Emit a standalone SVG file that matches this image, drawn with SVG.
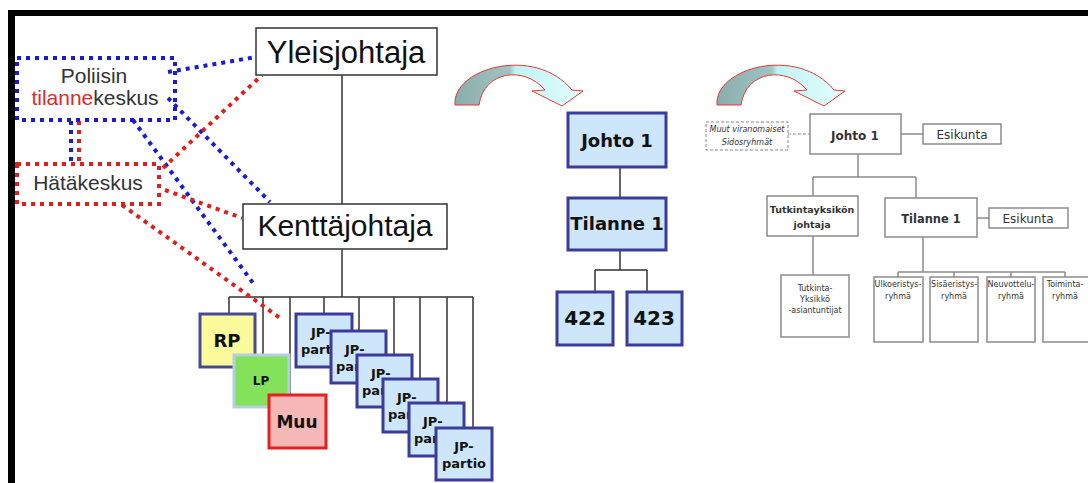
<svg xmlns="http://www.w3.org/2000/svg" width="1088" height="483" viewBox="0 0 1088 483">
<style>
.bl{fill:none;stroke:#1b1bd2;stroke-width:4;stroke-dasharray:4 5}
.rd{fill:none;stroke:#e01e1e;stroke-width:4;stroke-dasharray:4 5}
.tr{fill:none;stroke:#333;stroke-width:1.5}
.gl{fill:none;stroke:#8c8c8c;stroke-width:1.5}
.wb{fill:#fff;stroke:#333;stroke-width:1.5}
.big{font-family:"Liberation Sans",Arial,sans-serif;font-size:30px;fill:#111;text-anchor:middle}
.mid{font-family:"Liberation Sans",Arial,sans-serif;font-size:21px;fill:#333;text-anchor:middle}
.jp{fill:#cde6fa;stroke:#3b3b9c;stroke-width:3}
.cm{font-family:"DejaVu Sans",Verdana,sans-serif;font-weight:bold;fill:#111;text-anchor:middle}
.cs{font-family:"DejaVu Sans",Verdana,sans-serif;font-weight:bold;fill:#111;font-size:13px}
.gb{fill:#fff;stroke:#8c8c8c;stroke-width:1.5}
.gt{font-family:"DejaVu Sans",Verdana,sans-serif;fill:#333;text-anchor:middle}
</style>
<defs>
<linearGradient id="ag" x1="0" y1="0" x2="1" y2="0">
<stop offset="0" stop-color="#88aeac"/>
<stop offset="0.43" stop-color="#a2c4c3"/>
<stop offset="0.47" stop-color="#c2f2f2"/>
<stop offset="1" stop-color="#e2ffff"/>
</linearGradient>
<path id="uarrow" d="M455,105 C452,68 535,45 572,90 L583,91 L562,106 L532,91 L545,90 C525,66 484,70 479,105 Z" fill="url(#ag)" stroke="#e03a3a" stroke-width="1"/>
</defs>
<rect width="1088" height="483" fill="#fff"/>
<rect x="8" y="10" width="1080" height="6" fill="#000"/>
<rect x="8" y="10" width="7" height="473" fill="#000"/>

<g id="connectors">
<path class="tr" d="M342,75 V204 M342,249 V297 M229,297 H473 M229,297 V314 M263,297 V355 M290,297 V395 M324,297 V314 M359,297 V331 M394,297 V355 M420,297 V379 M447,297 V403 M473,297 V428"/>
<path class="bl" d="M71,121 V163"/>
<path class="rd" d="M79,121 V163"/>
<path class="bl" d="M168,72 L256,57"/>
<path class="bl" d="M168,98 L270,202"/>
<path class="bl" d="M133,120 L253,283"/>
<path class="rd" d="M163,168 L262,75"/>
<path class="rd" d="M165,190 L242,218"/>
<path class="rd" d="M122,205 L280,318"/>
<path class="tr" d="M620,167 V198 M620,250 V270 M595,270 H647 M595,270 V292 M647,270 V292"/>
<path class="gl" d="M858,154 V177 M813,177 H916 M813,177 V196 M916,177 V198 M901,134 H923 M977,218 H989 M813,236 V275 M923,237 V272 M898,272 H1065 M898,272 V277 M954,272 V277 M1011,272 V277 M1065,272 V277"/>
<path d="M788,134 H810" fill="none" stroke="#888" stroke-width="1" stroke-dasharray="3 2"/>
</g>

<g id="poliisin">
<rect class="bl" x="17" y="58" width="158" height="62"/>
<text class="mid" x="94" y="83">Poliisin</text>
<text class="mid" x="95" y="105"><tspan fill="#e02a2a">tilanne</tspan>keskus</text>
</g>
<g id="hatakeskus">
<rect class="rd" x="17" y="164" width="142" height="40"/>
<text class="mid" x="88" y="190">Hätäkeskus</text>
</g>

<g id="yleisjohtaja">
<rect class="wb" x="256" y="28" width="181" height="47"/>
<text class="big" x="346" y="63" style="font-size:31px">Yleisjohtaja</text>
</g>
<g id="kenttajohtaja">
<rect class="wb" x="243" y="204" width="204" height="45"/>
<text class="big" x="345" y="236">Kenttäjohtaja</text>
</g>

<g id="rp">
<rect x="200" y="314" width="55" height="53" fill="#fbfb9c" stroke="#4a4a94" stroke-width="3"/>
<text class="cm" x="227" y="347" font-size="18">RP</text>
</g>
<g id="lp">
<rect x="234" y="355" width="55" height="52" fill="#84e25a" stroke="#b4d0de" stroke-width="3"/>
<text class="cm" x="261" y="385" font-size="12">LP</text>
</g>
<g id="muu">
<rect x="269" y="395" width="57" height="53" fill="#f5b8b6" stroke="#e52020" stroke-width="3"/>
<text class="cm" x="297" y="428" font-size="17">Muu</text>
</g>

<g id="jp1"><rect class="jp" x="296" y="314" width="56" height="53"/><text class="cs" x="311" y="337">JP-</text><text class="cs" x="301" y="354">part</text></g>
<g id="jp2"><rect class="jp" x="331" y="331" width="55" height="52"/><text class="cs" x="345" y="354">JP-</text><text class="cs" x="336" y="371">par</text></g>
<g id="jp3"><rect class="jp" x="357" y="355" width="55" height="52"/><text class="cs" x="371" y="378">JP-</text><text class="cs" x="362" y="395">par</text></g>
<g id="jp4"><rect class="jp" x="383" y="379" width="55" height="53"/><text class="cs" x="397" y="402">JP-</text><text class="cs" x="388" y="419">par</text></g>
<g id="jp5"><rect class="jp" x="409" y="403" width="55" height="53"/><text class="cs" x="423" y="426">JP-</text><text class="cs" x="414" y="443">par</text></g>
<g id="jp6"><rect class="jp" x="436" y="428" width="56" height="52"/><text class="cm" font-size="13"><tspan x="464" y="451">JP-</tspan><tspan x="464" y="468">partio</tspan></text></g>

<g id="arrow1"><use href="#uarrow"/></g>
<g id="arrow2"><use href="#uarrow" transform="translate(262,0)"/></g>

<g id="m-johto1">
<rect class="jp" x="568" y="113" width="98" height="54"/>
<text class="cm" x="617" y="147" font-size="18">Johto 1</text>
</g>
<g id="m-tilanne1">
<rect class="jp" x="568" y="198" width="98" height="52"/>
<text class="cm" x="617" y="230" font-size="18">Tilanne 1</text>
</g>
<g id="m-422">
<rect class="jp" x="557" y="292" width="56" height="53"/>
<text class="cm" x="585" y="325" font-size="20">422</text>
</g>
<g id="m-423">
<rect class="jp" x="627" y="292" width="55" height="53"/>
<text class="cm" x="654" y="325" font-size="20">423</text>
</g>

<g id="r-muut">
<rect x="706" y="122" width="82" height="28" fill="#fff" stroke="#888" stroke-width="1" stroke-dasharray="3 2"/>
<text class="gt" font-size="8" font-style="italic"><tspan x="747" y="132">Muut viranomaiset</tspan><tspan x="747" y="145">Sidosryhmät</tspan></text>
</g>
<g id="r-johto1">
<rect class="gb" x="810" y="114" width="91" height="40"/>
<text class="gt" x="855" y="140" font-size="12" font-weight="bold">Johto 1</text>
</g>
<g id="r-esikunta1">
<rect class="gb" x="923" y="124" width="78" height="20"/>
<text class="gt" x="962" y="139" font-size="12">Esikunta</text>
</g>
<g id="r-tutkinta">
<rect class="gb" x="767" y="196" width="91" height="40"/>
<text class="gt" font-size="9.5" font-weight="bold"><tspan x="812" y="213">Tutkintayksikön</tspan><tspan x="812" y="228">johtaja</tspan></text>
</g>
<g id="r-tilanne1">
<rect class="gb" x="885" y="198" width="92" height="39"/>
<text class="gt" x="931" y="223" font-size="11.5" font-weight="bold">Tilanne 1</text>
</g>
<g id="r-esikunta2">
<rect class="gb" x="989" y="208" width="79" height="20"/>
<text class="gt" x="1028" y="223" font-size="12">Esikunta</text>
</g>
<g id="r-asiantuntijat">
<rect class="gb" x="781" y="275" width="68" height="62"/>
<text class="gt" font-size="8"><tspan x="815" y="291">Tutkinta-</tspan><tspan x="815" y="302">Yksikkö</tspan><tspan x="815" y="313">-asiantuntijat</tspan></text>
</g>
<g id="r-ulko">
<rect class="gb" x="874" y="277" width="49" height="65"/>
<text class="gt" font-size="8"><tspan x="898" y="287">Ulkoeristys-</tspan><tspan x="898" y="299">ryhmä</tspan></text>
</g>
<g id="r-sisa">
<rect class="gb" x="930" y="277" width="48" height="65"/>
<text class="gt" font-size="8"><tspan x="954" y="287">Sisäeristys-</tspan><tspan x="954" y="299">ryhmä</tspan></text>
</g>
<g id="r-neuvottelu">
<rect class="gb" x="987" y="277" width="48" height="65"/>
<text class="gt" font-size="8"><tspan x="1011" y="287">Neuvottelu-</tspan><tspan x="1011" y="299">ryhmä</tspan></text>
</g>
<g id="r-toiminta">
<rect class="gb" x="1043" y="277" width="50" height="65"/>
<text class="gt" font-size="8"><tspan x="1065" y="287">Toiminta-</tspan><tspan x="1065" y="299">ryhmä</tspan></text>
</g>
</svg>
